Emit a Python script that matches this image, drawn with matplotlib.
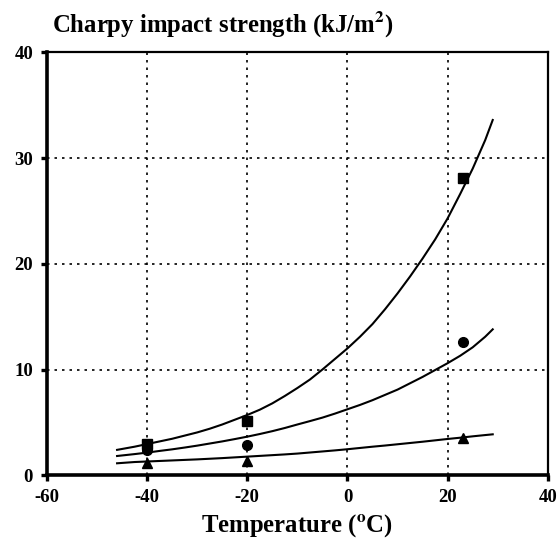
import matplotlib
matplotlib.use("Agg")
import matplotlib.pyplot as plt

plt.rcParams['font.family'] = 'Liberation Serif'
plt.rcParams['font.weight'] = 'bold'
plt.rcParams['mathtext.fontset'] = 'stix'
plt.rcParams['axes.unicode_minus'] = False

# fitted curves (temperature in C vs impact strength in kJ/m2)
temp_fit = [-46, -42.5, -40, -37.5, -35, -32.5, -30, -27.5, -25, -22.5, -20, -17.5,
            -15, -12.5, -10, -7.5, -5, -2.5, 0, 2.5, 5, 7.5, 10, 12.5, 15, 17.5,
            20, 22.5, 25, 27.5, 29]
fit_sq = [2.4, 2.7, 2.95, 3.2, 3.45, 3.75, 4.05, 4.4, 4.8, 5.25, 5.7, 6.2,
          6.8, 7.5, 8.25, 9.05, 10.0, 11.0, 12.0, 13.1, 14.3, 15.7, 17.2, 18.8, 20.5, 22.3,
          24.3, 26.6, 29.0, 31.7, 33.6]
fit_ci = [1.82, 2.0, 2.14, 2.3, 2.45, 2.62, 2.8, 3.0, 3.2, 3.42, 3.65, 3.9,
          4.17, 4.47, 4.8, 5.12, 5.45, 5.83, 6.24, 6.65, 7.1, 7.6, 8.1, 8.7, 9.3, 9.95,
          10.6, 11.3, 12.1, 13.1, 13.8]
fit_tr = [1.13, 1.25, 1.3, 1.35, 1.4, 1.45, 1.5, 1.56, 1.62, 1.69, 1.76, 1.83,
          1.9, 1.97, 2.05, 2.15, 2.25, 2.35, 2.46, 2.58, 2.7, 2.81, 2.93, 3.05, 3.17, 3.3,
          3.43, 3.55, 3.68, 3.8, 3.87]

# measured points
temp_pts = [-40, -20, 23]
pts_sq = [3.0, 5.15, 28.1]
pts_ci = [2.4, 2.85, 12.6]
pts_tr = [1.2, 1.3, 3.55]

fig = plt.figure(figsize=(5.59, 5.45), dpi=100)
ax = fig.add_axes([0.084, 0.128, 0.896, 0.776])

for y in (fit_sq, fit_ci, fit_tr):
    ax.plot(temp_fit, y, color='black', lw=1.5, zorder=3)

ax.plot(temp_pts, pts_ci, 'o', color='black', ms=7, zorder=4)
ax.plot(temp_pts, pts_sq, 's', color='black', ms=7, zorder=4)
ax.plot(temp_pts, pts_tr, '^', color='black', ms=6.5, zorder=4)

ax.set_xlim(-60, 40)
ax.set_ylim(0, 40)
ax.set_xticks([-60, -40, -20, 0, 20, 40])
ax.set_yticks([0, 10, 20, 30, 40])

for x in (-40, -20, 0, 20):
    ax.axvline(x, color='black', lw=1.2, ls=(0, (1.5, 3)), zorder=1)
for y in (10, 20, 30):
    ax.axhline(y, color='black', lw=1.2, ls=(0, (1.5, 3)), zorder=1)

ax.spines['left'].set_linewidth(2.6)
ax.spines['bottom'].set_linewidth(2.6)
ax.spines['top'].set_linewidth(1.6)
ax.spines['right'].set_linewidth(1.6)

ax.tick_params(direction='out', length=4, width=2.4, labelsize=13.5, pad=6)
for lab in ax.get_xticklabels() + ax.get_yticklabels():
    lab.set_fontweight('bold')

ax.set_xlabel(r'Temperature ($^{\mathbf{o}}$C)', fontsize=17.8, fontweight='bold', labelpad=4)
fig.text(0.093, 0.955, r'Charpy impact strength (kJ/m$^{\mathbf{2}}$)',
         fontsize=17.8, fontweight='bold', ha='left', va='center')

fig.savefig('out.png', dpi=100)
